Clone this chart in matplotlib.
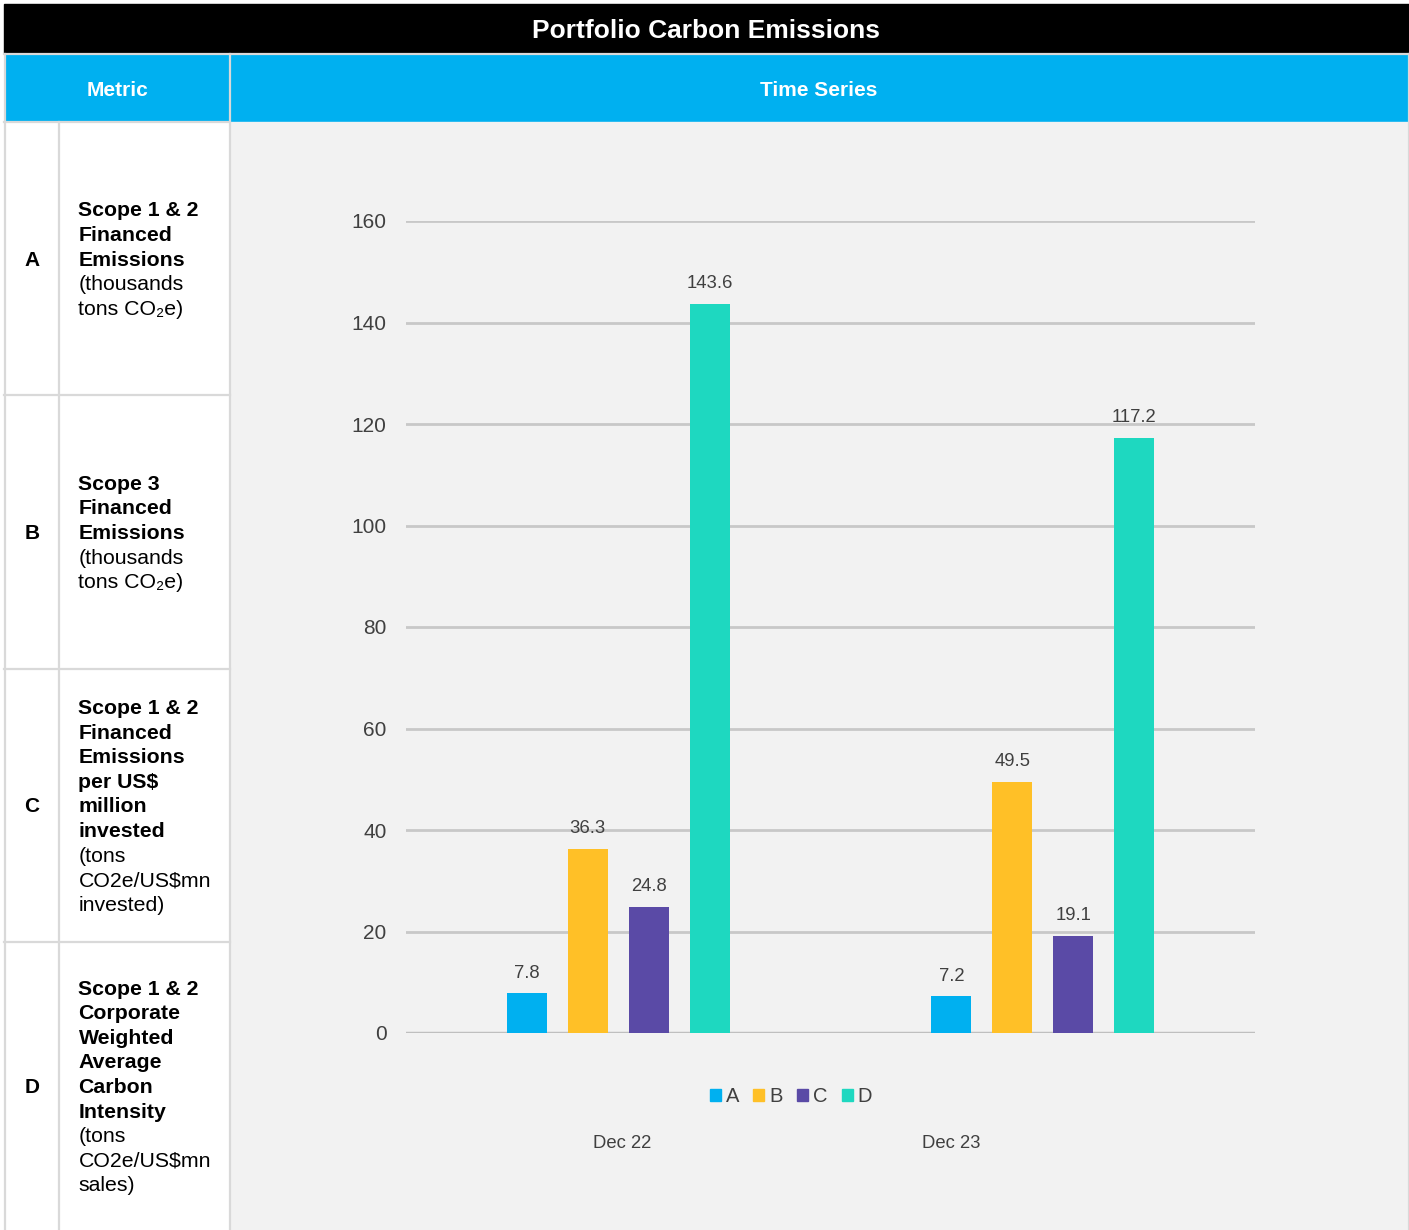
import matplotlib.pyplot as plt
from matplotlib.patches import Rectangle, Patch
import numpy as np

plt.rcParams['font.family'] = ['Liberation Sans', 'DejaVu Sans']

# donnees du graphique
periods = ['Dec 22', 'Dec 23']
series = ['A', 'B', 'C', 'D']
values_A = [7.8, 7.2]
values_B = [36.3, 49.5]
values_C = [24.8, 19.1]
values_D = [143.6, 117.2]
y_ticks = [0, 20, 40, 60, 80, 100, 120, 140, 160]

# texte du tableau de gauche : (lignes en gras, lignes normales)
row_letters = ['A', 'B', 'C', 'D']
row_bold = [
    ['Scope 1 & 2', 'Financed', 'Emissions'],
    ['Scope 3', 'Financed', 'Emissions'],
    ['Scope 1 & 2', 'Financed', 'Emissions', 'per US$', 'million', 'invested'],
    ['Scope 1 & 2', 'Corporate', 'Weighted', 'Average', 'Carbon', 'Intensity'],
]
row_normal = [
    ['(thousands', 'tons CO\u2082e)'],
    ['(thousands', 'tons CO\u2082e)'],
    ['(tons', 'CO2e/US$mn', 'invested)'],
    ['(tons', 'CO2e/US$mn', 'sales)'],
]

colors = ['#00B0F0', '#FFC027', '#5A4AA6', '#1ED8C0']
cyan = '#00B0F0'
border = '#D9D9D9'
W, H = 1409, 1230

fig = plt.figure(figsize=(W / 100, H / 100), dpi=100)
fig.patch.set_facecolor('white')

# fond en pixels pour le tableau
bg = fig.add_axes([0, 0, 1, 1])
bg.set_xlim(0, W)
bg.set_ylim(H, 0)
bg.axis('off')

# titre noir
bg.add_patch(Rectangle((4, 4), W - 4, 49, color='black'))
bg.text(706, 31, 'Portfolio Carbon Emissions', color='white', fontsize=19,
        fontweight='bold', ha='center', va='center')

# entetes
bg.add_patch(Rectangle((5, 55), 224, 66, color=cyan))
bg.add_patch(Rectangle((231, 55), 1177, 66, color=cyan))
bg.text(117, 90, 'Metric', color='white', fontsize=15, fontweight='bold', ha='center', va='center')
bg.text(819, 90, 'Time Series', color='white', fontsize=15, fontweight='bold', ha='center', va='center')

# panneau du graphique
bg.add_patch(Rectangle((231, 122), 1177, H - 122, color='#F2F2F2'))

# bordures
bg.plot([4.5, 4.5], [54, H], color=border, lw=1.6)
bg.plot([59, 59], [122, H], color=border, lw=1.6)
bg.plot([230, 230], [54, H], color=border, lw=1.6)
bg.plot([1408.5, 1408.5], [54, H], color=border, lw=1.6)
bg.plot([4, W], [54, 54], color=border, lw=1.6)
bg.plot([4, 230], [121.5, 121.5], color=border, lw=1.6)
for yb in [395, 669, 942]:
    bg.plot([4, 230], [yb, yb], color=border, lw=1.6)

row_bounds = [(122, 395), (395, 669), (669, 942), (942, 1230)]
pitch = 24.6
for i, (top, bot) in enumerate(row_bounds):
    center = (top + bot) / 2 + 1.5
    bg.text(32, center, row_letters[i], fontsize=15, fontweight='bold', ha='center', va='center')
    lines = [(t, 'bold') for t in row_bold[i]] + [(t, 'normal') for t in row_normal[i]]
    n = len(lines)
    for j, (txt, wt) in enumerate(lines):
        yy = center + (j - (n - 1) / 2) * pitch
        bg.text(78.5, yy, txt, fontsize=15.3, fontweight=wt, ha='left', va='center', color='black')

# graphique en barres
ax = fig.add_axes([406 / W, (H - 1033) / H, (1255 - 406) / W, (1033 - 221) / H])
ax.set_facecolor('none')
x = np.arange(len(periods))
width = 40 / 425
step = 61 / 425
all_values = [values_A, values_B, values_C, values_D]
for k, vals in enumerate(all_values):
    pos = x + (k - 1.5) * step
    bars = ax.bar(pos, vals, width=width, color=colors[k], zorder=3)
    for b, v in zip(bars, vals):
        ax.annotate(f'{v:.1f}', (b.get_x() + b.get_width() / 2, v), xytext=(0, 8.5),
                    textcoords='offset points', ha='center', va='bottom',
                    fontsize=13.3, color='#404040')

ax.set_xlim(-0.5, 1.5)
ax.set_ylim(0, 160)
ax.set_yticks(y_ticks)
ax.tick_params(axis='y', length=0, pad=14, labelsize=15, labelcolor='#404040')
ax.set_xticks([])
for s in ax.spines.values():
    s.set_visible(False)
ax.yaxis.grid(True, color='#C8C8C8', lw=2, zorder=0)
ax.axhline(0, color='#BFBFBF', lw=2.5, zorder=2)

# etiquettes des periodes (placees sous la legende)
bg.text(622, 1144, periods[0], fontsize=13.3, color='#404040', ha='center', va='center')
bg.text(951, 1144, periods[1], fontsize=13.3, color='#404040', ha='center', va='center')

handles = [Patch(color=c, label=s) for c, s in zip(colors, series)]
fig.legend(handles=handles, loc='center', bbox_to_anchor=(791 / W, 1 - 1097 / H),
           ncol=4, frameon=False, fontsize=14.5, handlelength=0.55, handleheight=0.55,
           handletextpad=0.25, columnspacing=0.7, labelcolor='#404040')

plt.savefig('out.png', dpi=100)
